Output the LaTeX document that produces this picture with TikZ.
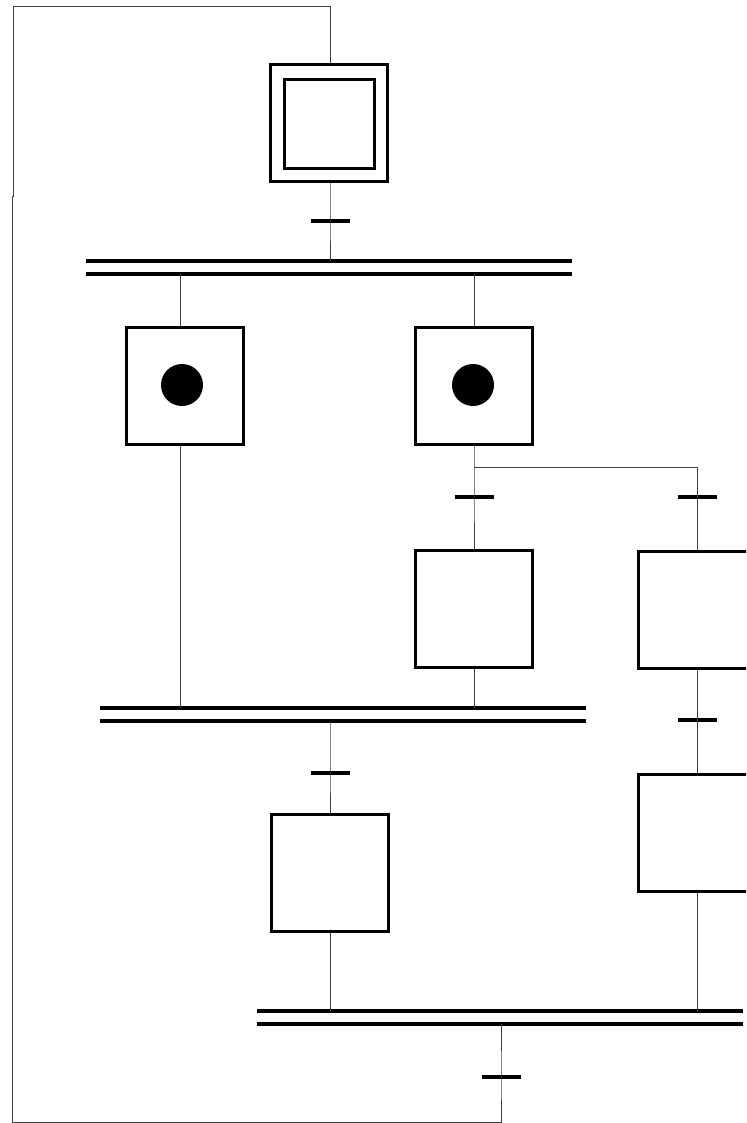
\documentclass[tikz,border=0pt]{standalone}
\begin{document}
\begin{tikzpicture}[x=1pt,y=-1pt,
  stepbox/.style={draw, line width=3pt, minimum width=117pt, minimum height=117pt, inner sep=0pt},
  initin/.style={draw, line width=3pt, minimum width=90pt, minimum height=89pt, inner sep=0pt},
  token/.style={circle, fill=black, minimum size=42pt, inner sep=0pt},
  trans/.style={fill=black, minimum width=39pt, minimum height=4pt, inner sep=0pt},
  bar/.style={minimum width=486pt, minimum height=13pt, inner sep=0pt, outer sep=0pt},
  barline/.style={line width=4pt},
  conn/.style={line width=1pt, black!75}]
\useasboundingbox (0,0) rectangle (746,1123);
\clip (0,0) rectangle (746,1123);
% steps
\node[stepbox] (init) at (329,123) {};
\node[initin] (initi) at (329.5,124) {};
\node[stepbox] (sL) at (184.5,385.5) {};
\node[stepbox] (sR) at (473.5,385.5) {};
\node[token] (tkL) at (182,385) {};
\node[token] (tkR) at (473,385) {};
\node[stepbox] (sR2) at (473.5,609) {};
\node[stepbox] (sRR) at (697,609.5) {};
\node[stepbox] (sRR2) at (697,832.5) {};
\node[stepbox] (sB) at (329.5,872.5) {};
% bars
\node[bar] (b1) at (329,267.5) {};
\node[bar] (b2) at (342.5,714) {};
\node[bar] (b3) at (500,1017) {};
\foreach \b in {b1,b2,b3}{
  \draw[barline] (\b.north west) -- (\b.north east);
  \draw[barline] (\b.south west) -- (\b.south east);
}
% transitions
\node[trans] (t0) at (330,221) {};
\node[trans] (t1) at (474,497) {};
\node[trans] (t2) at (697,497) {};
\node[trans] (t3) at (697,720) {};
\node[trans] (t4) at (330,773) {};
\node[trans] (t5) at (501,1077) {};
\coordinate (tl) at (13,7);
\coordinate (j1) at (13,197);
\coordinate (j2) at (12,197);
\coordinate (bl) at (12,1122);
\coordinate (br) at (474,467);
% connectors
\draw[conn] (init.north -| t0) |- (tl) -- (j1) -- (j2) -- (bl) -| (t5.center) -- (b3.south -| t5);
\draw[conn] (init.south -| t0) -- (t0.center) -- (b1.north -| t0);
\draw[conn] ([xshift=-4.5pt]sL.north) -- ([xshift=-4.5pt]b1.south -| sL);
\draw[conn] (sR.north -| t1) -- (b1.south -| t1);
\draw[conn] ([xshift=-4.5pt]sL.south) -- ([xshift=-4.5pt]b2.north -| sL);
\draw[conn] (sR.south -| t1) -- (t1.center) -- (sR2.north -| t1);
\draw[conn] (br) -| (t2.center) -- (sRR.north);
\draw[conn] (sR2.south -| t1) -- (b2.north -| t1);
\draw[conn] (sRR.south) -- (t3.center) -- (sRR2.north);
\draw[conn] (sRR2.south) -- (b3.north -| sRR2);
\draw[conn] (b2.south -| t4) -- (t4.center) -- (sB.north -| t4);
\draw[conn] (sB.south -| t4) -- (b3.north -| t4);
\end{tikzpicture}
\end{document}
